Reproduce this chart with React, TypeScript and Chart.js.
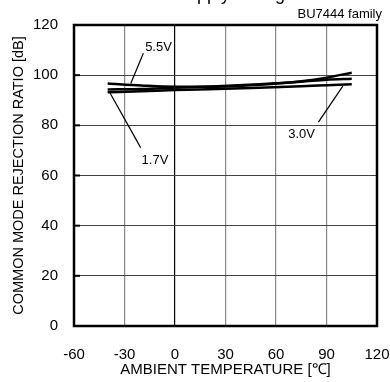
import React, { useEffect, useRef } from "react";
import { Chart, registerables } from "chart.js";

Chart.register(...registerables);

const temps = [-40, -20, 0, 25, 50, 75, 90, 105];
const cmrr55 = [96.7, 95.9, 95.4, 95.4, 96.2, 97.6, 99.0, 101.0];
const cmrr30 = [94.3, 94.5, 95.0, 95.6, 96.4, 97.4, 98.2, 98.6];
const cmrr17 = [93.2, 93.6, 94.1, 94.5, 95.0, 95.6, 96.0, 96.4];
const seriesNames = ["5.5V", "3.0V", "1.7V"];

const xTicks = [-60, -30, 0, 30, 60, 90, 120];
const yTicks = [0, 20, 40, 60, 80, 100, 120];

const xTitle = "AMBIENT TEMPERATURE [\u2103]";
const yTitle = "COMMON MODE REJECTION RATIO [dB]";
const topTitle = "Supply Voltage";
const subTitle = "BU7444 family";

// label annotations in data units: text anchor, leader start, leader end
const labelNotes = [
  { text: "5.5V", tx: -9.8, ty: 111.2, x1: -18.8, y1: 108.7, x2: -26.3, y2: 96.7 },
  { text: "1.7V", tx: -11.9, ty: 66.0, x1: -38.6, y1: 92.9, x2: -20.4, y2: 71.1 },
  { text: "3.0V", tx: 75.2, ty: 76.2, x1: 85.2, y1: 81.3, x2: 99.7, y2: 95.6 },
];

const FONT = "'Liberation Sans', Arial, sans-serif";

const decorPlugin = {
  id: "decor",
  afterDatasetsDraw(chart: any) {
    const { ctx, chartArea, scales } = chart;
    const xs = scales.x;
    const ys = scales.y;
    ctx.save();
    ctx.strokeStyle = "#000";
    ctx.lineWidth = 2.5;
    ctx.strokeRect(
      chartArea.left,
      chartArea.top,
      chartArea.right - chartArea.left,
      chartArea.bottom - chartArea.top
    );
    ctx.lineWidth = 2;
    for (const v of yTicks) {
      const py = ys.getPixelForValue(v);
      ctx.beginPath();
      ctx.moveTo(chartArea.left, py);
      ctx.lineTo(chartArea.left + 6, py);
      ctx.stroke();
    }
    ctx.lineWidth = 1.2;
    ctx.fillStyle = "#000";
    ctx.font = `13px ${FONT}`;
    ctx.textAlign = "center";
    ctx.textBaseline = "middle";
    for (const n of labelNotes) {
      ctx.beginPath();
      ctx.moveTo(xs.getPixelForValue(n.x1), ys.getPixelForValue(n.y1));
      ctx.lineTo(xs.getPixelForValue(n.x2), ys.getPixelForValue(n.y2));
      ctx.stroke();
      ctx.fillText(n.text, xs.getPixelForValue(n.tx), ys.getPixelForValue(n.ty));
    }
    ctx.font = `18px ${FONT}`;
    ctx.textAlign = "left";
    ctx.textBaseline = "alphabetic";
    ctx.fillText(topTitle, 175, 0);
    ctx.font = `13px ${FONT}`;
    ctx.textAlign = "right";
    ctx.fillText(subTitle, 382, 18);
    ctx.restore();
  },
};

export default function App() {
  const ref = useRef<HTMLCanvasElement>(null);
  useEffect(() => {
    if (!ref.current) return;
    const mk = (vals: number[]) => temps.map((t, i) => ({ x: t, y: vals[i] }));
    const all = [cmrr55, cmrr30, cmrr17];
    const chart = new Chart(ref.current, {
      type: "line",
      data: {
        datasets: all.map((vals, i) => ({
          label: seriesNames[i],
          data: mk(vals),
          borderColor: "#000",
          borderWidth: 2.5,
          pointRadius: 0,
          fill: false,
          cubicInterpolationMode: "monotone" as const,
        })),
      },
      options: {
        animation: false,
        responsive: true,
        maintainAspectRatio: false,
        layout: { padding: { top: 25, right: 13, left: 0, bottom: 0 } },
        plugins: { legend: { display: false }, tooltip: { enabled: false } },
        scales: {
          x: {
            type: "linear",
            min: -60,
            max: 120,
            afterFit: (s: any) => {
              s.height = 56;
              s.paddingRight = 0;
              s.paddingLeft = 0;
            },
            afterBuildTicks: (s: any) => {
              s.ticks = xTicks.map((v) => ({ value: v }));
            },
            ticks: {
              color: "#000",
              font: { family: FONT, size: 15 },
              padding: 20,
              maxRotation: 0,
            },
            grid: {
              drawTicks: false,
              color: (c: any) => (c.tick && c.tick.value === 0 ? "#000" : "#888"),
              lineWidth: 1.2,
            },
            border: { display: false },
            title: {
              display: true,
              text: xTitle,
              color: "#000",
              font: { family: FONT, size: 15 },
              padding: { top: 0, bottom: 3 },
            },
          },
          y: {
            type: "linear",
            min: 0,
            max: 120,
            afterFit: (s: any) => {
              s.width = 74;
              s.paddingTop = 0;
              s.paddingBottom = 0;
            },
            afterBuildTicks: (s: any) => {
              s.ticks = yTicks.map((v) => ({ value: v }));
            },
            ticks: {
              color: "#000",
              font: { family: FONT, size: 15 },
              padding: 16,
            },
            grid: { drawTicks: false, color: "#444", lineWidth: 1 },
            border: { display: false },
            title: {
              display: true,
              text: yTitle,
              color: "#000",
              font: { family: FONT, size: 14.5 },
              padding: { top: 10, bottom: 0 },
            },
          },
        },
      },
      plugins: [decorPlugin],
    });
    return () => chart.destroy();
  }, []);
  return (
    <div style={{ position: "fixed", left: 0, top: 0, width: 390, height: 382, background: "#fff" }}>
      <canvas ref={ref} />
    </div>
  );
}
